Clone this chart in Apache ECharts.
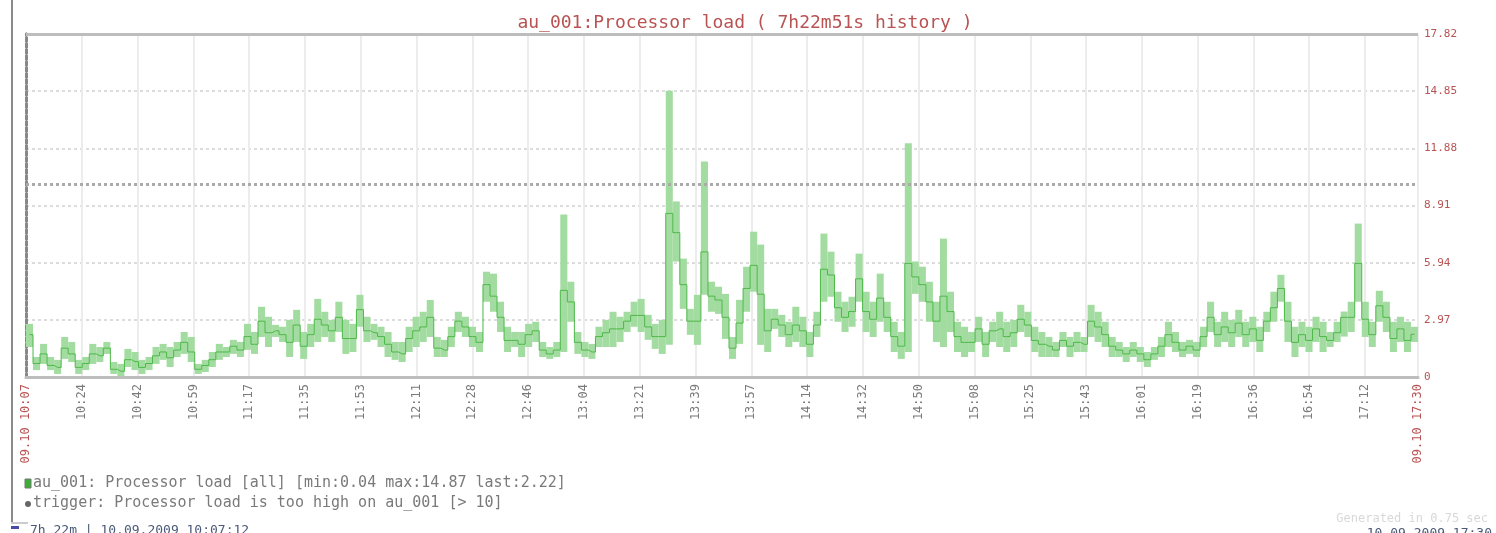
<!DOCTYPE html>
<html lang="en">
<head>
<meta charset="UTF-8">
<title>au_001 Processor load</title>
<script src="https://cdn.jsdelivr.net/npm/echarts@6/dist/echarts.min.js"></script>
<style>
  html, body { margin: 0; padding: 0; background: #fff; }
  #main { width: 1496px; height: 533px; }
</style>
</head>
<body>
<div id="main"></div>
<script>
// history: 7h22m51s starting 10.09.2009 10:07:12, one sample group every ~2.2 min
var historyMinutes = 442.85;
var labelStep = 17.75;
var timeLabels = ['09.10 10:07', '10:24', '10:42', '10:59', '11:17', '11:35', '11:53', '12:11',
  '12:28', '12:46', '13:04', '13:21', '13:39', '13:57', '14:14', '14:32', '14:50', '15:08',
  '15:25', '15:43', '16:01', '16:19', '16:36', '16:54', '17:12', '09.10 17:30'];

var yMax = 17.82;
var yStep = 2.97;
var triggerLevel = 10;

var maxVals = [
  2.76, 1.04, 1.72, 1.04, 0.89, 2.08, 1.82, 0.89, 1.04, 1.72,
  1.56, 1.82, 0.78, 0.68, 1.46, 1.3, 0.89, 1.04, 1.56, 1.72,
  1.56, 1.82, 2.34, 2.08, 0.68, 0.89, 1.3, 1.72, 1.56, 1.93,
  1.82, 2.76, 2.34, 3.65, 3.13, 2.71, 2.61, 2.97, 3.49, 2.34,
  2.76, 4.06, 3.39, 2.97, 3.91, 2.97, 2.76, 4.27, 3.13, 2.76,
  2.61, 2.34, 1.82, 1.82, 2.61, 3.13, 3.39, 4.0, 2.08, 1.93,
  2.61, 3.39, 3.13, 2.61, 2.34, 5.47, 5.37, 3.91, 2.61, 2.34,
  2.34, 2.76, 2.87, 1.82, 1.56, 1.82, 8.44, 4.95, 2.34, 1.82,
  1.72, 2.61, 2.97, 3.39, 3.13, 3.39, 3.91, 4.06, 3.23, 2.76,
  2.97, 14.87, 9.12, 6.15, 3.54, 4.27, 11.2, 4.95, 4.69, 4.32,
  2.08, 4.01, 5.73, 7.55, 6.88, 3.54, 3.54, 3.23, 2.87, 3.65,
  3.13, 2.34, 3.39, 7.45, 6.51, 4.43, 3.91, 4.17, 6.41, 4.43,
  3.91, 5.37, 3.91, 2.87, 2.34, 12.14, 6.0, 5.73, 4.95, 3.91,
  7.19, 4.43, 2.87, 2.61, 2.34, 3.13, 2.34, 2.87, 3.39, 2.87,
  2.97, 3.75, 3.39, 2.61, 2.34, 2.08, 1.82, 2.34, 2.08, 2.34,
  2.08, 3.75, 3.39, 2.87, 2.08, 1.82, 1.56, 1.82, 1.56, 1.3,
  1.56, 2.08, 2.87, 2.34, 1.82, 1.93, 1.82, 2.61, 3.91, 2.87,
  3.39, 2.97, 3.49, 2.87, 3.13, 2.61, 3.39, 4.43, 5.31, 3.91,
  2.61, 2.87, 2.61, 3.13, 2.87, 2.34, 2.87, 3.4, 3.91, 7.97,
  3.91, 2.87, 4.48, 3.91, 2.87, 3.13, 2.87, 2.61
];

var minVals = [
  1.56, 0.36, 0.68, 0.36, 0.16, 0.94, 0.78, 0.16, 0.36, 0.68,
  0.78, 1.2, 0.16, 0.04, 0.52, 0.36, 0.16, 0.36, 0.68, 0.89,
  0.52, 1.04, 1.2, 0.78, 0.16, 0.26, 0.52, 0.89, 1.04, 1.2,
  1.04, 1.41, 1.2, 2.08, 1.56, 2.08, 1.82, 1.04, 1.82, 0.94,
  1.56, 1.82, 2.08, 1.82, 2.34, 1.2, 1.3, 2.61, 1.82, 1.93,
  1.56, 1.04, 0.89, 0.78, 1.3, 1.56, 1.82, 2.08, 1.04, 1.04,
  1.56, 2.34, 2.08, 1.56, 1.3, 3.91, 3.39, 2.34, 1.3, 1.56,
  1.04, 1.56, 1.82, 1.04, 0.94, 1.04, 1.3, 2.87, 1.2, 1.04,
  0.94, 1.56, 1.56, 1.56, 1.82, 2.34, 2.61, 2.34, 1.93, 1.46,
  1.2, 1.67, 6.0, 3.54, 2.19, 1.67, 4.27, 3.39, 3.28, 1.98,
  0.94, 1.72, 3.39, 4.43, 1.67, 1.3, 2.5, 2.08, 1.56, 1.82,
  1.56, 1.04, 2.08, 3.91, 4.17, 2.87, 2.34, 2.61, 3.91, 2.34,
  2.08, 2.87, 2.34, 1.3, 0.94, 1.3, 4.32, 3.91, 2.87, 1.82,
  1.56, 2.34, 1.3, 1.04, 1.3, 1.82, 1.04, 1.82, 1.56, 1.3,
  1.56, 2.34, 2.08, 1.3, 1.04, 1.04, 1.04, 1.56, 1.04, 1.3,
  1.3, 2.08, 1.82, 1.56, 1.04, 1.04, 0.78, 1.04, 0.78, 0.52,
  0.89, 1.04, 1.56, 1.3, 1.04, 1.2, 1.04, 1.56, 2.34, 1.56,
  1.82, 1.56, 2.08, 1.56, 1.82, 1.3, 2.34, 2.87, 3.91, 1.82,
  1.04, 1.56, 1.3, 1.82, 1.3, 1.56, 1.82, 2.1, 2.34, 3.91,
  2.08, 1.56, 2.87, 2.34, 1.3, 1.82, 1.3, 1.82
];

var avgVals = [
  2.2, 0.7, 1.2, 0.6, 0.5, 1.5, 1.2, 0.5, 0.7, 1.2,
  1.1, 1.5, 0.4, 0.3, 0.9, 0.8, 0.5, 0.7, 1.1, 1.3,
  1.0, 1.4, 1.8, 1.3, 0.4, 0.6, 0.9, 1.3, 1.3, 1.6,
  1.4, 2.1, 1.7, 2.9, 2.3, 2.4, 2.2, 1.8, 2.7, 1.6,
  2.2, 3.0, 2.7, 2.4, 3.1, 2.0, 2.0, 3.5, 2.4, 2.3,
  2.1, 1.7, 1.3, 1.2, 2.0, 2.4, 2.6, 3.1, 1.5, 1.4,
  2.1, 2.9, 2.6, 2.1, 1.8, 4.8, 4.2, 3.1, 1.9, 1.9,
  1.7, 2.2, 2.4, 1.4, 1.2, 1.4, 4.5, 3.9, 1.8, 1.4,
  1.3, 2.1, 2.3, 2.5, 2.5, 2.9, 3.2, 3.2, 2.6, 2.1,
  2.1, 8.5, 7.5, 4.8, 2.9, 2.9, 6.5, 4.2, 4.0, 3.1,
  1.5, 2.8, 4.6, 5.8, 4.3, 2.4, 3.0, 2.7, 2.2, 2.7,
  2.4, 1.7, 2.7, 5.6, 5.3, 3.6, 3.1, 3.4, 5.1, 3.4,
  3.0, 4.1, 3.1, 2.1, 1.6, 5.9, 5.2, 4.8, 3.9, 2.9,
  4.2, 3.4, 2.1, 1.8, 1.8, 2.5, 1.7, 2.4, 2.5, 2.1,
  2.3, 3.0, 2.7, 1.9, 1.7, 1.6, 1.4, 1.9, 1.6, 1.8,
  1.7, 2.9, 2.6, 2.2, 1.6, 1.4, 1.2, 1.4, 1.2, 0.9,
  1.2, 1.6, 2.2, 1.8, 1.4, 1.6, 1.4, 2.1, 3.1, 2.2,
  2.6, 2.3, 2.8, 2.2, 2.5, 1.9, 2.9, 3.6, 4.6, 2.9,
  1.8, 2.2, 1.9, 2.5, 2.1, 1.9, 2.3, 3.1, 3.1, 5.9,
  3.0, 2.2, 3.7, 3.1, 2.0, 2.5, 1.9, 2.22
];

var mono = '"DejaVu Sans Mono", "Liberation Mono", monospace';
var red = '#b95252';
var grey = '#7a7a7a';

var cats = [];
var bandVals = [];
for (var i = 0; i < maxVals.length; i++) {
  cats.push(i);
  bandVals.push(+(maxVals[i] - minVals[i]).toFixed(2));
}

var tickValues = [];
for (var k = 0; k < timeLabels.length - 1; k++) {
  tickValues.push(+(k * labelStep).toFixed(2));
}
tickValues.push(historyMinutes);

var minAll = Math.min.apply(null, minVals);
var maxAll = Math.max.apply(null, maxVals);
var lastVal = avgVals[avgVals.length - 1];

var chart = echarts.init(document.getElementById('main'));

chart.setOption({
  animation: false,
  backgroundColor: '#fff',
  title: {
    text: 'au_001:Processor load ( 7h22m51s history )',
    left: 740,
    top: 9,
    textAlign: 'center',
    textStyle: { fontFamily: mono, fontSize: 18, fontWeight: 'normal', color: red }
  },
  grid: { left: 26, right: 78, top: 34, bottom: 156 },
  xAxis: [
    {
      type: 'category',
      data: cats,
      show: false,
      boundaryGap: true
    },
    {
      type: 'value',
      min: 0,
      max: historyMinutes,
      interval: labelStep,
      position: 'bottom',
      axisLine: { show: true, lineStyle: { color: '#bdbdbd', width: 3 } },
      axisTick: { show: false },
      splitLine: { show: true, lineStyle: { color: '#ececec', width: 2 } },
      axisLabel: {
        customValues: tickValues,
        rotate: 90,
        margin: 7,
        fontFamily: mono,
        fontSize: 12,
        color: grey,
        formatter: function (v) {
          var idx = tickValues.indexOf(v);
          var t = timeLabels[idx];
          if (idx === 0 || idx === timeLabels.length - 1) return '{r|' + t + '}';
          return t;
        },
        rich: { r: { color: red, fontFamily: mono, fontSize: 12 } }
      }
    }
  ],
  yAxis: [
    {
      type: 'value',
      position: 'right',
      min: 0,
      max: yMax,
      interval: yStep,
      axisLine: { show: true, lineStyle: { color: '#888', width: 3, type: [3, 3] } },
      axisTick: { show: false },
      splitLine: { show: true, lineStyle: { color: '#dcdcdc', width: 2, type: [3, 3] } },
      axisLabel: {
        margin: 6,
        fontFamily: mono,
        fontSize: 11,
        color: red,
        formatter: function (v) { return v === 0 ? '0' : v.toFixed(2); }
      }
    },
    {
      type: 'value',
      position: 'left',
      min: 0,
      max: yMax,
      interval: yStep,
      axisLine: { show: true, lineStyle: { color: '#888', width: 3, type: [3, 3] } },
      axisTick: { show: false },
      splitLine: { show: false },
      axisLabel: { show: false }
    }
  ],
  series: [
    {
      name: 'base',
      type: 'bar',
      stack: 'band',
      xAxisIndex: 0,
      yAxisIndex: 0,
      data: minVals,
      barCategoryGap: '0%',
      itemStyle: { color: 'rgba(0,0,0,0)' },
      silent: true,
      markLine: {
        silent: true,
        symbol: 'none',
        label: { show: false },
        data: [
          { yAxis: yMax, lineStyle: { color: '#bdbdbd', width: 3, type: 'solid' } },
          { yAxis: triggerLevel, lineStyle: { color: '#aaaaaa', width: 3, type: [3, 3] } }
        ]
      }
    },
    {
      name: 'range',
      type: 'bar',
      stack: 'band',
      xAxisIndex: 0,
      yAxisIndex: 0,
      data: bandVals,
      barCategoryGap: '0%',
      itemStyle: { color: '#a3dca0' },
      silent: true
    },
    {
      name: 'avg',
      type: 'line',
      xAxisIndex: 0,
      yAxisIndex: 0,
      data: avgVals,
      step: 'middle',
      symbol: 'none',
      lineStyle: { color: '#4cb847', width: 1 },
      silent: true
    }
  ],
  graphic: [
    { type: 'rect', shape: { x: 11, y: 0, width: 2, height: 524 }, style: { fill: '#8a8a8a' } },
    { type: 'rect', shape: { x: 11, y: 522, width: 17, height: 2 }, style: { fill: '#cccccc' } },
    { type: 'rect', shape: { x: 11, y: 526, width: 8, height: 3 }, style: { fill: '#4a4aa8' } },
    { type: 'rect', shape: { x: 25, y: 479, width: 6, height: 9 }, style: { fill: '#3aae35', stroke: '#777', lineWidth: 1 } },
    {
      type: 'text', left: 33, top: 476,
      style: {
        text: 'au_001: Processor load [all] [min:' + minAll.toFixed(2) + ' max:' + maxAll.toFixed(2) + ' last:' + lastVal.toFixed(2) + ']',
        font: '15px ' + mono, fill: grey
      }
    },
    { type: 'circle', shape: { cx: 28, cy: 504, r: 3 }, style: { fill: '#666' } },
    {
      type: 'text', left: 33, top: 496,
      style: { text: 'trigger: Processor load is too high on au_001 [> ' + triggerLevel + ']', font: '15px ' + mono, fill: grey }
    },
    {
      type: 'text', left: 30, top: 524,
      style: { text: '7h 22m | 10.09.2009 10:07:12', font: '13px ' + mono, fill: '#4a5a78' }
    },
    {
      type: 'text', right: 8, top: 513,
      style: { text: 'Generated in 0.75 sec', font: '12px ' + mono, fill: '#d8d8d8' }
    },
    {
      type: 'text', right: 4, top: 527,
      style: { text: '10.09.2009 17:30', font: '13px ' + mono, fill: '#4a5a78' }
    }
  ]
});
</script>
</body>
</html>
